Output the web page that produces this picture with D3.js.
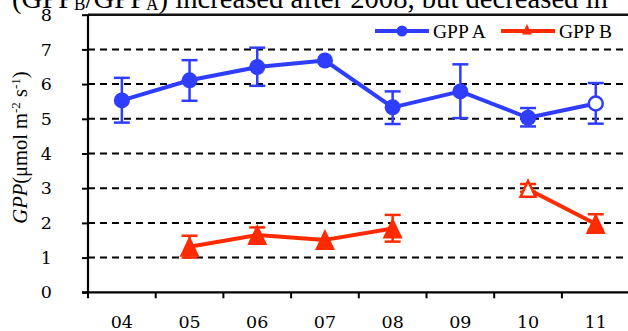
<!DOCTYPE html>
<html><head><meta charset="utf-8">
<script src="https://cdn.jsdelivr.net/npm/d3@7"></script>
<style>
html,body{margin:0;padding:0;background:#fff;overflow:hidden}
svg{display:block}
</style></head>
<body>
<svg id="c" width="628" height="331"></svg>
<script>
const years = ["04","05","06","07","08","09","10","11"];
const gppA = [5.53, 6.11, 6.49, 6.68, 5.33, 5.79, 5.03, 5.44];
const gppALow = [4.89, 5.52, 5.95, null, 4.85, 5.02, 4.78, 4.86];
const gppAHigh = [6.18, 6.69, 7.05, null, 5.79, 6.57, 5.31, 6.03];
const gppAOpen = [false, false, false, false, false, false, false, true];
const gppB = [null, 1.31, 1.65, 1.51, 1.84, null, 2.97, 1.97];
const gppBLow = [null, 1.00, 1.45, null, 1.46, null, 2.90, 1.80];
const gppBHigh = [null, 1.63, 1.87, null, 2.23, null, 3.12, 2.25];
const gppBOpen = [false, false, false, false, false, false, true, false];
const yTicks = [0,1,2,3,4,5,6,7,8];
const seriesNames = ["GPP A", "GPP B"];

const SERIF = "'Liberation Serif', 'DejaVu Serif', 'Noto Serif', 'Times New Roman', Times, serif";
const WSERIF = "'DejaVu Serif', 'Liberation Serif', 'Noto Serif', serif";
const BLUE = "#2f3dff", RED = "#ff2b00";
const svg = d3.select("#c");
const x = d3.scaleBand().domain(years).range([88, 629.6]).padding(0);
const y = d3.scaleLinear().domain([0, 8]).range([292.3, 14.7]);
const cx = d => x(d) + x.bandwidth()/2;

// title (cropped at the top edge, as in the reference)
const tg = svg.append("g");
const t = tg.append("text").attr("x", 0).attr("y", 0)
  .style("font-family", SERIF).attr("font-size", 30).attr("fill", "#000");
t.append("tspan").text("(GPP");
t.append("tspan").attr("font-size", 18).attr("dy", 2).text("B");
t.append("tspan").attr("dy", -2).text("/GPP");
t.append("tspan").attr("font-size", 18).attr("dy", 2).text("A");
t.append("tspan").attr("dy", -2).text(") increased after 2008, but decreased in");
const natW = t.node().getComputedTextLength();
const sx = natW > 0 ? (608 - 12) / natW : 1;
tg.attr("transform", `translate(12,8) scale(${sx},1)`);

// gridlines
svg.append("g").selectAll("line").data(yTicks.filter(v => v > 0 && v < 8)).join("line")
  .attr("x1", 88).attr("x2", 628).attr("y1", d => y(d)).attr("y2", d => y(d))
  .attr("stroke", "#000").attr("stroke-width", 2).attr("stroke-dasharray", "7,5");
svg.append("line").attr("x1", 88).attr("x2", 628).attr("y1", y(8)).attr("y2", y(8))
  .attr("stroke", "#111").attr("stroke-width", 2.5);

// y axis
const yAxis = d3.axisLeft(y).tickValues(yTicks).tickSize(6).tickPadding(30).tickFormat(d3.format("d"));
const gy = svg.append("g").attr("transform", "translate(88,0)").call(yAxis);
gy.select(".domain").attr("stroke-width", 2.2).attr("d", `M0,${y(8)}V${y(0)}`);
gy.selectAll(".tick line").attr("stroke-width", 2);
gy.selectAll(".tick text").style("font-family", WSERIF).attr("font-size", 17.5).attr("fill", "#000");

// x axis
const xAxis = d3.axisBottom(x).tickSize(0).tickPadding(23);
const gx = svg.append("g").attr("transform", `translate(0,${y(0)})`).call(xAxis);
gx.select(".domain").attr("stroke-width", 2.2).attr("d", `M82,0H628`);
gx.selectAll(".tick text").style("font-family", WSERIF).attr("font-size", 17.5).attr("fill", "#000");
svg.append("g").selectAll("line").data(years).join("line")
  .attr("x1", d => x(d)).attr("x2", d => x(d)).attr("y1", y(0)).attr("y2", y(0) + 6)
  .attr("stroke", "#000").attr("stroke-width", 2);

// y label
const yl = svg.append("text").attr("transform", "translate(27,147.5) rotate(-90)")
  .attr("text-anchor", "middle").style("font-family", SERIF).attr("font-size", 20.5).attr("fill", "#000");
yl.append("tspan").attr("font-style", "italic").text("GPP");
yl.append("tspan").text("(\u03bcmol m");
yl.append("tspan").attr("font-size", 13).attr("dy", -7).text("-2");
yl.append("tspan").attr("dy", 7).text(" s");
yl.append("tspan").attr("font-size", 13).attr("dy", -7).text("-1");
yl.append("tspan").attr("dy", 7).text(")");

function triPath(s) { // s = half width
  return `M0,${-s*1.1}L${s},${s}L${-s},${s}Z`;
}

function drawSeries(vals, lows, highs, opens, color, kind) {
  const g = svg.append("g");
  const pts = years.map((d, i) => ({d, v: vals[i], lo: lows[i], hi: highs[i], open: opens[i]}));
  const eb = pts.filter(p => p.v != null && p.lo != null);
  g.selectAll(".ev").data(eb).join("line")
    .attr("x1", p => cx(p.d)).attr("x2", p => cx(p.d)).attr("y1", p => y(p.lo)).attr("y2", p => y(p.hi))
    .attr("stroke", color).attr("stroke-width", 2.5);
  g.selectAll(".ct").data(eb).join("line")
    .attr("x1", p => cx(p.d) - 8).attr("x2", p => cx(p.d) + 8).attr("y1", p => y(p.hi)).attr("y2", p => y(p.hi))
    .attr("stroke", color).attr("stroke-width", 2.5);
  g.selectAll(".cb").data(eb).join("line")
    .attr("x1", p => cx(p.d) - 8).attr("x2", p => cx(p.d) + 8).attr("y1", p => y(p.lo)).attr("y2", p => y(p.lo))
    .attr("stroke", color).attr("stroke-width", 2.5);
  const line = d3.line().defined(p => p.v != null).x(p => cx(p.d)).y(p => y(p.v));
  g.append("path").datum(pts).attr("d", line).attr("fill", "none")
    .attr("stroke", color).attr("stroke-width", 4).attr("stroke-linejoin", "round");
  const mk = pts.filter(p => p.v != null);
  if (kind === "circle") {
    g.selectAll(".m").data(mk).join("circle")
      .attr("cx", p => cx(p.d)).attr("cy", p => y(p.v)).attr("r", p => p.open ? 7 : 8)
      .attr("fill", p => p.open ? "#fff" : color).attr("stroke", color).attr("stroke-width", p => p.open ? 2.5 : 0);
  } else {
    g.selectAll(".m").data(mk).join("path")
      .attr("transform", p => `translate(${cx(p.d)},${y(p.v)})`)
      .attr("d", p => triPath(p.open ? 7.5 : 10))
      .attr("fill", p => p.open ? "#fff" : color).attr("stroke", color)
      .attr("stroke-width", p => p.open ? 2.5 : 0).attr("stroke-linejoin", "miter");
  }
}
drawSeries(gppA, gppALow, gppAHigh, gppAOpen, BLUE, "circle");
drawSeries(gppB, gppBLow, gppBHigh, gppBOpen, RED, "tri");

// legend
const lg = svg.append("g");
const legendItems = [
  {name: seriesNames[0], color: BLUE, kind: "circle", x0: 375},
  {name: seriesNames[1], color: RED, kind: "tri", x0: 501}
];
legendItems.forEach(it => {
  lg.append("line").attr("x1", it.x0).attr("x2", it.x0 + 54).attr("y1", 31).attr("y2", 31)
    .attr("stroke", it.color).attr("stroke-width", 4);
  if (it.kind === "circle") {
    lg.append("circle").attr("cx", it.x0 + 27).attr("cy", 31).attr("r", 5.5).attr("fill", it.color);
  } else {
    lg.append("path").attr("transform", `translate(${it.x0 + 26},29.5)`).attr("d", triPath(5)).attr("fill", it.color);
  }
  lg.append("text").attr("x", it.x0 + 58).attr("y", 37.5).style("font-family", SERIF)
    .attr("font-size", 19.5).attr("fill", "#000").text(it.name);
});
</script>
</body></html>
